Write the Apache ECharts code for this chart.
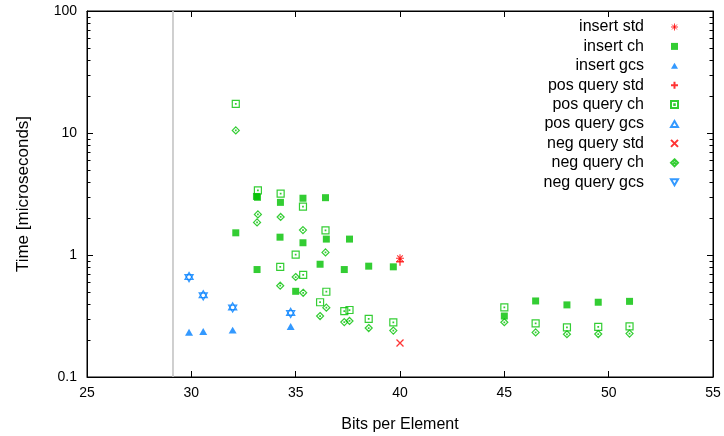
<!DOCTYPE html>
<html><head><meta charset="utf-8">
<script src="https://cdn.jsdelivr.net/npm/echarts@6/dist/echarts.min.js"></script>
<style>html,body{margin:0;padding:0;background:#fff}#c{width:724px;height:436px}</style>
</head><body><div id="c"></div>
<script>
// ---- axis definitions ----
const xMin = 25, xMax = 55, xStep = 5;
const yMin = 0.1, yMax = 100;
const yMinorTicks = [0.2,0.3,0.4,0.5,0.6,0.7,0.8,0.9, 2,3,4,5,6,7,8,9, 20,30,40,50,60,70,80,90];
const boundaryX = 29.12;
const xTitle = 'Bits per Element';
const yTitle = 'Time [microseconds]';

// ---- data ----
const seriesNames = ['insert std','insert ch','insert gcs','pos query std','pos query ch','pos query gcs','neg query std','neg query ch','neg query gcs'];

const insertStdX = [40.0];
const insertStdY = [0.94];
const insertChX = [32.13, 33.12, 33.17, 34.27, 35.35, 36.43, 34.25, 35.35, 36.47, 37.58, 33.15, 36.17, 37.33, 38.50, 39.68, 35.00, 45.0, 46.5, 48.0, 49.5, 51.0];
const insertChY = [1.52, 3.02, 2.97, 2.70, 2.92, 2.95, 1.40, 1.26, 1.35, 1.35, 0.76, 0.84, 0.76, 0.81, 0.80, 0.504, 0.316, 0.42, 0.39, 0.41, 0.417];
const insertGcsX = [29.89, 30.57, 31.98, 34.76];
const insertGcsY = [0.228, 0.231, 0.237, 0.254];

const posStdX = [40.0];
const posStdY = [0.88];
const posChX = [32.13, 33.19, 34.28, 35.35, 36.43, 35.00, 34.26, 35.36, 36.47, 36.17, 37.33, 37.58, 38.50, 39.68, 45.0, 46.5, 48.0, 49.5, 51.0];
const posChY = [17.3, 3.39, 3.18, 2.49, 1.59, 1.006, 0.80, 0.686, 0.50, 0.41, 0.347, 0.354, 0.30, 0.28, 0.372, 0.275, 0.255, 0.258, 0.26];
const posGcsX = [29.89, 30.57, 31.98, 34.76];
const posGcsY = [0.66, 0.467, 0.372, 0.335];

const negStdX = [40.0];
const negStdY = [0.19];
const negChX = [32.13, 33.19, 33.15, 34.28, 35.35, 36.43, 35.00, 34.26, 35.36, 36.47, 36.17, 37.33, 37.58, 38.50, 39.68, 45.0, 46.5, 48.0, 49.5, 51.0];
const negChY = [10.5, 2.15, 1.85, 2.05, 1.60, 1.05, 0.66, 0.56, 0.49, 0.37, 0.316, 0.282, 0.288, 0.252, 0.24, 0.281, 0.232, 0.224, 0.225, 0.227];
const negGcsX = [29.89, 30.57, 31.98, 34.76];
const negGcsY = [0.66, 0.467, 0.372, 0.335];

// ---- styles ----
const RED = '#ff0000', GREEN = '#00c000', BLUE = '#0080ff';
const FONT = 'Liberation Sans, Arial, Helvetica, sans-serif';
const SYM = {
  star: 'path://M5,0 L5,10 M0,5 L10,5 M1.5,1.5 L8.5,8.5 M8.5,1.5 L1.5,8.5',
  plus: 'path://M5,0 L5,10 M0,5 L10,5',
  cross: 'path://M0,0 L10,10 M10,0 L0,10',
  sqDot: 'path://M0,0 L10,0 L10,10 L0,10 Z M4.6,4.6 L5.4,4.6 L5.4,5.4 L4.6,5.4 Z',
  diaDot: 'path://M5,0 L10,5 L5,10 L0,5 Z M4.6,4.6 L5.4,4.6 L5.4,5.4 L4.6,5.4 Z',
  // triangles centred on their centroid (empty zero-length segment pads the box)
  triUp: 'path://M5,0 L10,8.66 L0,8.66 Z M5,11.55 L5,11.55',
  triDown: 'path://M0,0 L10,0 L5,8.66 Z M5,-2.89 L5,-2.89',
  triUpIcon: 'path://M5,0 L10,8.66 L0,8.66 Z',
  triDownIcon: 'path://M0,0 L10,0 L5,8.66 Z'
};
const legendExtra = {
  'insert std': {icon: SYM.star, itemStyle:{color:'rgba(0,0,0,0)', borderColor:RED, borderWidth:1}},
  'insert gcs': {icon: SYM.triUpIcon},
  'pos query gcs': {icon: SYM.triUpIcon},
  'neg query gcs': {icon: SYM.triDownIcon}
};
function pairs(xs, ys){ return xs.map((x,i)=>[x, ys[i]]); }
function filled(name, xs, ys, symbol, color, size){
  return {name, type:'scatter', data:pairs(xs,ys), symbol, symbolSize:size, z:5,
    itemStyle:{color, borderWidth:0}};
}
function stroked(name, xs, ys, symbol, color, size, lw){
  return {name, type:'scatter', data:pairs(xs,ys), symbol, symbolSize:size, z:5,
    itemStyle:{color:'rgba(0,0,0,0)', borderColor:color, borderWidth:lw||1.2}};
}

const chart = echarts.init(document.getElementById('c'), null, {renderer:'canvas'});
chart.setOption({
  animation:false,
  backgroundColor:'#fff',
  textStyle:{fontFamily:FONT},
  grid:{left:87, right:11, top:11, bottom:59, show:true, borderColor:'#000', borderWidth:1,
        backgroundColor:'transparent', containLabel:false, outerBoundsMode:'none'},
  legend:{
    data:seriesNames.map(n => Object.assign({name:n}, legendExtra[n] || {})),
    orient:'vertical', align:'right', right:40, top:14,
    itemWidth:7, itemHeight:7, itemGap:3.4, selectedMode:false,
    textStyle:{fontFamily:FONT, fontSize:16, color:'#000', lineHeight:16, padding:[0,22,0,0]}
  },
  xAxis:[
    {type:'value', min:xMin, max:xMax, interval:xStep, position:'bottom',
     name:xTitle, nameLocation:'middle', nameGap:40,
     nameTextStyle:{fontFamily:FONT, fontSize:16, color:'#000'},
     axisLine:{show:true, onZero:false, lineStyle:{color:'#000', width:1}},
     axisTick:{show:true, inside:true, length:6, lineStyle:{color:'#000'}},
     axisLabel:{fontFamily:FONT, fontSize:14, color:'#000', margin:9},
     splitLine:{show:false}},
    {type:'value', min:xMin, max:xMax, interval:xStep, position:'top',
     axisLine:{show:true, onZero:false, lineStyle:{color:'#000', width:1}},
     axisTick:{show:true, inside:true, length:6, lineStyle:{color:'#000'}},
     axisLabel:{show:false}, splitLine:{show:false}}
  ],
  yAxis:[
    {type:'log', logBase:10, min:yMin, max:yMax, position:'left',
     name:yTitle, nameLocation:'middle', nameGap:55, nameRotate:90,
     nameTextStyle:{fontFamily:FONT, fontSize:17, color:'#000'},
     axisLine:{show:true, onZero:false, lineStyle:{color:'#000', width:1}},
     axisTick:{show:true, inside:true, length:6, lineStyle:{color:'#000'}},
     axisLabel:{fontFamily:FONT, fontSize:14, color:'#000', margin:10},
     splitLine:{show:false}},
    {type:'log', logBase:10, min:yMin, max:yMax, position:'right',
     axisLine:{show:true, onZero:false, lineStyle:{color:'#000', width:1}},
     axisTick:{show:true, inside:true, length:6, lineStyle:{color:'#000'}},
     axisLabel:{show:false}, splitLine:{show:false}}
  ],
  series:[
    {name:'boundary', type:'scatter', data:[], z:1, silent:true,
     markLine:{symbol:'none', silent:true, animation:false, label:{show:false},
       lineStyle:{color:'#c4c4c4', width:1.6, type:'solid'}, data:[{xAxis:boundaryX}]}},
    {name:'minorTicks', type:'custom', silent:true, clip:false, z:3,
     data: yMinorTicks.map(v=>[xMin, v]),
     renderItem:function(params, api){
       const v = api.value(1);
       const l = api.coord([xMin, v]);
       const r = api.coord([xMax, v]);
       const y = Math.round(l[1]) + 0.5;
       return {type:'group', children:[
         {type:'line', shape:{x1:l[0], y1:y, x2:l[0]+3.5, y2:y}, style:{stroke:'#000', lineWidth:1}},
         {type:'line', shape:{x1:r[0]-3.5, y1:y, x2:r[0], y2:y}, style:{stroke:'#000', lineWidth:1}}
       ]};
     }},
    stroked('insert std', insertStdX, insertStdY, SYM.star, RED, 8, 1.1),
    filled('insert ch', insertChX, insertChY, 'rect', GREEN, 7),
    filled('insert gcs', insertGcsX, insertGcsY, SYM.triUp, BLUE, [8, 9.24]),
    stroked('pos query std', posStdX, posStdY, SYM.plus, RED, 8, 1.3),
    stroked('pos query ch', posChX, posChY, SYM.sqDot, GREEN, 7, 1.2),
    stroked('pos query gcs', posGcsX, posGcsY, SYM.triUp, BLUE, [8, 9.24], 1.3),
    stroked('neg query std', negStdX, negStdY, SYM.cross, RED, 7, 1.3),
    stroked('neg query ch', negChX, negChY, SYM.diaDot, GREEN, 7, 1.2),
    stroked('neg query gcs', negGcsX, negGcsY, SYM.triDown, BLUE, [8, 9.24], 1.3)
  ]
});
</script></body></html>
